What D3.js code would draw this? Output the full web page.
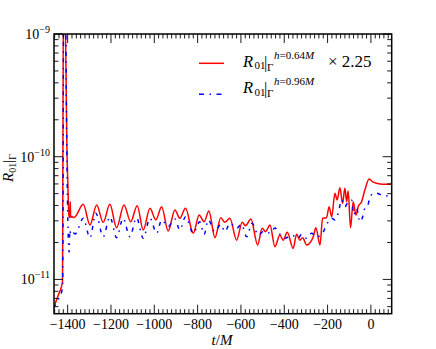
<!DOCTYPE html>
<html>
<head>
<meta charset="utf-8">
<script src="https://cdn.jsdelivr.net/npm/d3@7"></script>
<style>
  body { margin: 0; background: #fff; }
  svg { display: block; }
  text { font-family: "Liberation Serif", "DejaVu Serif", serif; fill: #000; }
</style>
</head>
<body>
<div id="chart"></div>
<script>
// values, in units of 1e-11
var red_t = [-1460, -1445, -1429, -1424, -1419, -1412, -1407, -1404, -1399, -1394,
  -1390, -1388, -1386, -1380, -1374, -1370, -1328, -1297, -1266, -1236,
  -1205, -1174, -1140, -1109, -1079, -1051, -1020, -993, -966, -936,
  -905, -882, -856, -820, -793, -770, -748, -720, -693, -674,
  -651, -620, -594, -579, -554, -523, -502, -486, -466, -443,
  -420, -405, -386, -359, -343, -328, -315, -297, -266, -254,
  -235, -223, -205, -193, -181, -166, -156, -143, -131, -120,
  -112, -105, -94, -82, -69, -59, -43, -28, -8, 3,
  26, 57, 97];
var red_v = [0.62, 0.73, 0.87, 0.95, 300, 200, 40, 14, 6, 3.3,
  3.2, 4.3, 3.2, 3.25, 3.2, 3.2, 4.09, 2.78, 4.04, 2.92,
  4.09, 2.64, 4.04, 2.95, 3.99, 2.53, 3.80, 3.05, 3.91, 2.48,
  3.68, 3.15, 3.80, 2.38, 3.35, 2.95, 3.61, 2.19, 3.18, 2.92,
  3.15, 2.09, 2.92, 2.74, 3.11, 1.91, 2.61, 2.45, 2.78, 1.85,
  2.30, 2.09, 2.42, 1.79, 2.33, 2.09, 2.19, 1.91, 2.23, 2.64,
  1.91, 3.15, 3.18, 3.91, 3.24, 5.03, 4.44, 5.59, 4.17, 5.53,
  4.30, 5.25, 2.64, 4.30, 3.35, 3.91, 4.30, 5.35, 6.58, 6.34,
  6.07, 5.96, 5.96];

var blue_t = [-1464, -1445, -1428, -1423, -1418, -1411, -1406, -1402, -1398, -1393,
  -1390, -1385, -1375, -1365, -1328, -1297, -1270, -1236, -1205, -1174,
  -1144, -1113, -1082, -1051, -1020, -989, -966, -936, -905, -882,
  -856, -820, -790, -770, -751, -720, -693, -674, -651, -620,
  -597, -574, -548, -520, -493, -466, -443, -420, -397, -366,
  -336, -320, -297, -274, -251, -228, -212, -197, -181, -166,
  -151, -135, -120, -105, -89, -78, -66, -51, -38, -28,
  -17, -5, 11, 26, 49, 72, 96];
var blue_v = [0.585, 0.68, 0.79, 0.9, 300, 300, 30, 6, 2.5, 1.67,
  2.53, 2.3, 2.4, 2.35, 3.15, 2.18, 3.46, 2.23, 3.24, 2.19,
  3.15, 2.23, 3.18, 2.16, 3.15, 2.38, 3.05, 2.69, 3.11, 2.53,
  3.24, 2.38, 2.95, 2.33, 3.05, 2.45, 2.81, 2.45, 2.87, 2.61,
  2.81, 2.23, 2.87, 2.30, 2.48, 2.38, 2.62, 2.33, 2.16, 2.30,
  2.16, 2.33, 2.16, 2.38, 2.23, 2.30, 2.61, 2.95, 3.15, 3.05,
  3.46, 4.44, 3.91, 4.30, 4.44, 3.35, 3.80, 2.95, 3.24, 3.80,
  3.91, 4.58, 5.03, 5.03, 4.87, 4.81, 4.72];

var x_major = [-1400, -1200, -1000, -800, -600, -400, -200, 0];
var y_major_exp = [-11, -10, -9];

var W = 436, H = 349,
    pL = 54, pT = 34, pR = 391.7, pB = 313.7,
    unit = 1e-11;

var svg = d3.select('#chart').append('svg')
    .attr('width', W).attr('height', H);

var x = d3.scaleLinear().domain([-1463, 96]).range([pL, pR]),
    y = d3.scaleLog().domain([5.255e-12, 1e-9]).range([pB, pT]);

svg.append('clipPath').attr('id', 'clip')
  .append('rect')
    .attr('x', pL).attr('y', pT)
    .attr('width', pR - pL).attr('height', pB - pT);

var line = d3.line()
    .x(function(d) { return x(d[0]); })
    .y(function(d) { return y(d[1] * unit); })
    .curve(d3.curveMonotoneX);

var redData = red_t.map(function(t, i) { return [t, red_v[i]]; }),
    blueData = blue_t.map(function(t, i) { return [t, blue_v[i]]; });

var plot = svg.append('g').attr('clip-path', 'url(#clip)');

plot.append('path')
    .datum(redData)
    .attr('d', line)
    .attr('fill', 'none')
    .attr('stroke', '#ff0000')
    .attr('stroke-width', 1.5);

plot.append('path')
    .datum(blueData)
    .attr('d', line)
    .attr('fill', 'none')
    .attr('stroke', '#0000ff')
    .attr('stroke-width', 1.5)
    .attr('stroke-dasharray', '4,5.5,1.5,5.5');

// ticks on all four sides, pointing inward
var ticks = svg.append('g').attr('stroke', '#000').attr('stroke-width', 0.9);
var xMinor = d3.range(-1460, 96, 20).filter(function(v) { return v % 200 != 0; });

xMinor.forEach(function(v) {
  ticks.append('line').attr('x1', x(v)).attr('x2', x(v)).attr('y1', pB).attr('y2', pB - 4.5);
  ticks.append('line').attr('x1', x(v)).attr('x2', x(v)).attr('y1', pT).attr('y2', pT + 4.5);
});
x_major.forEach(function(v) {
  ticks.append('line').attr('x1', x(v)).attr('x2', x(v)).attr('y1', pB).attr('y2', pB - 9);
  ticks.append('line').attr('x1', x(v)).attr('x2', x(v)).attr('y1', pT).attr('y2', pT + 9);
});

y.ticks().forEach(function(v) {
  var e = Math.log10(v), major = Math.abs(e - Math.round(e)) < 1e-9,
      len = major ? 9 : 4.5, py = y(v);
  if (py < pT - 0.5 || py > pB + 0.5) return;
  ticks.append('line').attr('x1', pL).attr('x2', pL + len).attr('y1', py).attr('y2', py);
  ticks.append('line').attr('x1', pR).attr('x2', pR - len).attr('y1', py).attr('y2', py);
});

svg.append('rect')
    .attr('x', pL).attr('y', pT)
    .attr('width', pR - pL).attr('height', pB - pT)
    .attr('fill', 'none').attr('stroke', '#000').attr('stroke-width', 1.5);

// tick labels
svg.append('g').selectAll('text')
  .data(x_major)
  .enter().append('text')
    .attr('x', function(d) { return x(d); })
    .attr('y', 329)
    .attr('text-anchor', 'middle')
    .style('font-size', '14px')
    .text(function(d) { return d < 0 ? '\u2212' + (-d) : d; });

var yl = svg.append('g').selectAll('text')
  .data(y_major_exp)
  .enter().append('text')
    .attr('x', 50)
    .attr('y', function(d) { return y(Math.pow(10, d)) + 5; })
    .attr('text-anchor', 'end')
    .style('font-size', '14px');
yl.append('tspan').text('10');
yl.append('tspan').attr('dy', -6).style('font-size', '10px')
    .text(function(d) { return '\u2212' + (-d); });

// axis titles
var xt = svg.append('text')
    .attr('x', 222).attr('y', 345)
    .attr('text-anchor', 'middle')
    .style('font-size', '15px');
xt.append('tspan').style('font-style', 'italic').text('t');
xt.append('tspan').text('/');
xt.append('tspan').style('font-style', 'italic').text('M');

var yt = svg.append('text')
    .attr('transform', 'translate(13,168) rotate(-90)')
    .attr('text-anchor', 'middle')
    .style('font-size', '15px');
yt.append('tspan').style('font-style', 'italic').text('R');
yt.append('tspan').attr('dy', 3).style('font-size', '10px').text('01');
yt.append('tspan').attr('dy', -3).text('|');
yt.append('tspan').attr('dy', 3).style('font-size', '10px').text('\u0393');

// legend
function legendLabel(yb, sup, extra) {
  var g = svg.append('g');
  g.append('text').attr('x', 243).attr('y', yb).style('font-size', '16.5px')
    .style('font-style', 'italic').text('R');
  g.append('text').attr('x', 254.5).attr('y', yb + 2.5).style('font-size', '11px').text('01');
  g.append('text').attr('x', 264).attr('y', yb + 1).style('font-size', '16.5px').text('|');
  g.append('text').attr('x', 267).attr('y', yb + 4).style('font-size', '11px').text('\u0393');
  var s = g.append('text').attr('x', 274).attr('y', yb - 8).style('font-size', '11px');
  s.append('tspan').style('font-style', 'italic').text('h');
  s.append('tspan').text('=' + sup);
  s.append('tspan').style('font-style', 'italic').text('M');
  if (extra) {
    g.append('text').attr('x', 328).attr('y', yb).style('font-size', '17px').text(extra);
  }
}

svg.append('line')
    .attr('x1', 199).attr('x2', 224).attr('y1', 63.3).attr('y2', 63.3)
    .attr('stroke', '#ff0000').attr('stroke-width', 1.5);
svg.append('line')
    .attr('x1', 199).attr('x2', 224).attr('y1', 94.3).attr('y2', 94.3)
    .attr('stroke', '#0000ff').attr('stroke-width', 1.5)
    .attr('stroke-dasharray', '5,5.5,1.5,5.5');

legendLabel(66.5, '0.64', '\u00d7 2.25');
legendLabel(93, '0.96', null);
</script>
</body>
</html>
